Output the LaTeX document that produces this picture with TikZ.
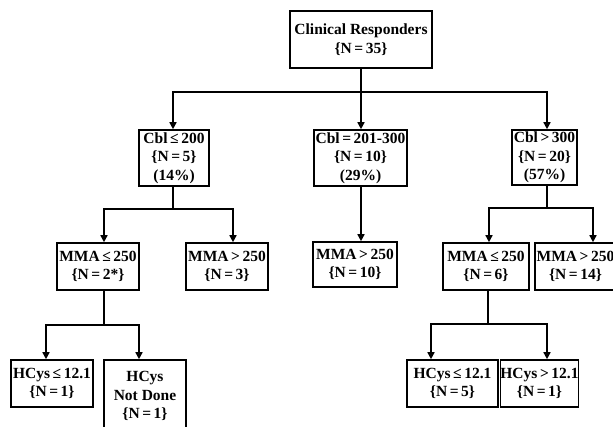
\documentclass[tikz,border=0pt]{standalone}
\usepackage{fontspec}
\setmainfont{Liberation Serif}
\usetikzlibrary{arrows.meta}
\begin{document}
\begin{tikzpicture}[x=1pt,y=-1pt,
  box/.style={draw, line width=1.6pt, inner sep=0pt, align=center,
    font=\bfseries\fontsize{15.5}{18.5}\selectfont},
  conn/.style={line width=1.5pt, line join=miter},
  arr/.style={conn, -{Triangle[length=7pt,width=7pt]}}]
\useasboundingbox (0,0) rectangle (613,426);
\clip (0,0) rectangle (613,426);
% level 0
\node[box, minimum width=142pt, minimum height=57pt] (root) at (361,39.5)
  {Clinical Responders\\\{N\,=\,35\}};
% level 1
\node[box, minimum width=70pt, minimum height=56pt] (c1) at (174,158)
  {Cbl\,≤\,200\\\{N\,=\,5\}\\(14\%)};
\node[box, minimum width=93pt, minimum height=56pt] (c2) at (360.5,158)
  {Cbl\,=\,201-300\\\{N\,=\,10\}\\(29\%)};
\node[box, minimum width=65pt, minimum height=55pt] (c3) at (544.5,157.5)
  {Cbl\,>\,300\\\{N\,=\,20\}\\(57\%)};
% level 2
\node[box, minimum width=82pt, minimum height=47pt] (m1) at (98,266.5)
  {MMA\,≤\,250\\\{N\,=\,2*\}};
\node[box, minimum width=82pt, minimum height=47pt] (m2) at (227,266.5)
  {MMA\,>\,250\\\{N\,=\,3\}};
\node[box, minimum width=84pt, minimum height=45pt] (m3) at (355,264.5)
  {MMA\,>\,250\\\{N\,=\,10\}};
\node[box, minimum width=86pt, minimum height=47pt] (m4) at (486,266.5)
  {MMA\,≤\,250\\\{N\,=\,6\}};
\node[box, minimum width=81pt, minimum height=47pt] (m5) at (575.5,266.5)
  {MMA\,>\,250\\\{N\,=\,14\}};
% level 3
\node[box, minimum width=82pt, minimum height=47pt] (h1) at (52,383.5)
  {HCys\,≤\,12.1\\\{N\,=\,1\}};
\node[box, minimum width=82pt, minimum height=72pt] (h2) at (145,396)
  {HCys\\Not Done\\\{N\,=\,1\}};
\node[box, minimum width=91pt, minimum height=47pt] (h3) at (452.5,383.5)
  {HCys\,≤\,12.1\\\{N\,=\,5\}};
\node[box, minimum width=77pt, minimum height=47pt] (h4) at (539.5,383.5)
  {HCys\,>\,12.1\\\{N\,=\,1\}};
% junction coordinates
\coordinate (j0) at (361,92);
\coordinate (t1) at (173,92);
\coordinate (t3) at (547,92);
\coordinate (j1) at (173,209);
\coordinate (u1) at (104,209);
\coordinate (u2) at (233,209);
\coordinate (j3) at (547,208);
\coordinate (u4) at (489,208);
\coordinate (u5) at (593,208);
\coordinate (k1) at (104,325);
\coordinate (v1) at (46,325);
\coordinate (v2) at (139,325);
\coordinate (k4) at (488,324);
\coordinate (v3) at (431,324);
\coordinate (v4) at (547,324);
% root connectors
\draw[conn] (root.south) -- (j0);
\draw[arr] (j0) -- (t1) -- (t1 |- c1.north);
\draw[arr] (j0) -- (t3) -- (t3 |- c3.north);
\draw[arr] (j0) -- (j0 |- c2.north);
% Cbl <= 200
\draw[conn] (c1.south -| j1) -- (j1);
\draw[arr] (j1) -- (u1) -- (u1 |- m1.north);
\draw[arr] (j1) -- (u2) -- (u2 |- m2.north);
% Cbl 201-300
\draw[arr] (c2.south -| j0) -- (j0 |- m3.north);
% Cbl > 300
\draw[conn] (c3.south -| j3) -- (j3);
\draw[arr] (j3) -- (u4) -- (u4 |- m4.north);
\draw[arr] (j3) -- (u5) -- (u5 |- m5.north);
% MMA <= 250 (left)
\draw[conn] (m1.south -| k1) -- (k1);
\draw[arr] (k1) -- (v1) -- (v1 |- h1.north);
\draw[arr] (k1) -- (v2) -- (v2 |- h2.north);
% MMA <= 250 (right)
\draw[conn] (m4.south -| k4) -- (k4);
\draw[arr] (k4) -- (v3) -- (v3 |- h3.north);
\draw[arr] (k4) -- (v4) -- (v4 |- h4.north);
\end{tikzpicture}
\end{document}
